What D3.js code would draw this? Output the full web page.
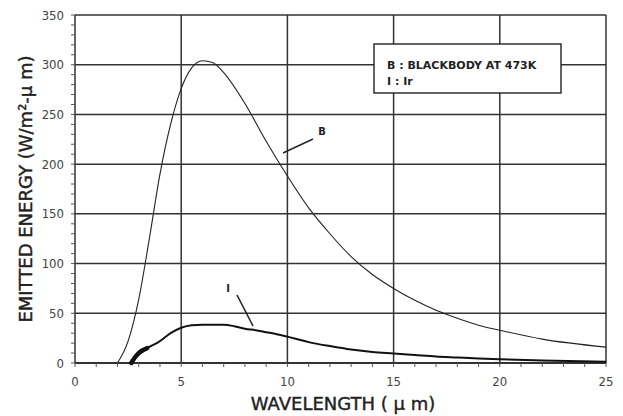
<!DOCTYPE html>
<html><head><meta charset="utf-8">
<script src="https://cdn.jsdelivr.net/npm/d3@7/dist/d3.min.js"></script>
<style>body{margin:0;background:#fff}</style>
</head><body>
<svg id="c" width="623" height="416"></svg>
<script>
// Blackbody at 473K (B)
const wavelengthB = [2.0, 2.5, 3.0, 3.5, 4.0, 4.5, 5.0, 5.5, 6.0, 6.5, 7.0, 8.0, 9.0, 10.0, 11.0, 12.0, 13.0, 14.0, 15.0, 16.0, 17.0, 18.0, 19.0, 20.0, 22.0, 25.0];
const energyB     = [0, 22, 64, 125, 190, 240, 276, 297, 304, 302, 292, 261, 223, 188, 156, 130, 107, 89, 75, 63, 53, 45, 38, 33, 24, 16];
// Iridium (I)
const wavelengthI = [2.65, 2.8, 3.0, 3.4, 4.0, 4.5, 5.0, 5.5, 6.0, 6.5, 7.0, 7.5, 8.0, 8.5, 9.0, 9.5, 10.0, 11.0, 12.0, 13.0, 14.0, 15.0, 16.0, 17.0, 18.0, 19.0, 20.0, 22.0, 25.0];
const energyI     = [0, 5, 10, 15, 22, 30, 35.5, 38, 38.5, 38.5, 38.5, 37, 34.5, 33, 31, 29, 26.5, 21, 17, 13.5, 11, 9.5, 8, 6.5, 5.5, 4.5, 3.7, 2.5, 1.3];
const xTicks = [0, 5, 10, 15, 20, 25];
const yTicks = [0, 50, 100, 150, 200, 250, 300, 350];
const legendLines = ["B : BLACKBODY AT 473K", "I : Ir"];

const svg = d3.select("#c");
const x = d3.scaleLinear().domain([0, 25]).range([75, 606]);
const y = d3.scaleLinear().domain([0, 350]).range([363, 15]);
const grid = "#333";
const font = "'DejaVu Sans Condensed','DejaVu Sans',sans-serif";
const titleFont = "'DejaVu Sans',sans-serif";

// grid
svg.append("g").selectAll("line").data(yTicks).join("line")
  .attr("x1", x(0)).attr("x2", x(25)).attr("y1", d => y(d)).attr("y2", d => y(d))
  .attr("stroke", grid).attr("stroke-width", d => d === 0 ? 2 : 1.5);
svg.append("g").selectAll("line").data(xTicks).join("line")
  .attr("y1", y(0)).attr("y2", y(350)).attr("x1", d => x(d)).attr("x2", d => x(d))
  .attr("stroke", grid).attr("stroke-width", 1.5);

// minor ticks
svg.append("g").selectAll("line").data(d3.range(0, 26, 1)).join("line")
  .attr("x1", d => x(d)).attr("x2", d => x(d)).attr("y1", y(0)).attr("y2", y(0) + 4)
  .attr("stroke", "#555").attr("stroke-width", 1);
svg.append("g").selectAll("line").data(d3.range(0, 351, 10)).join("line")
  .attr("x1", x(0) - 4).attr("x2", x(0)).attr("y1", d => y(d)).attr("y2", d => y(d))
  .attr("stroke", "#555").attr("stroke-width", 1);

// tick labels
svg.append("g").selectAll("text").data(xTicks).join("text")
  .attr("x", d => x(d)).attr("y", 386).attr("text-anchor", "middle")
  .attr("font-family", font).attr("font-size", 13).attr("fill", "#444").text(d => d);
svg.append("g").selectAll("text").data(yTicks).join("text")
  .attr("x", 64).attr("y", d => y(d) + 4.5).attr("text-anchor", "end")
  .attr("font-family", font).attr("font-size", 13).attr("fill", "#444").text(d => d);

// axis titles
svg.append("text").attr("x", 343).attr("y", 410).attr("text-anchor", "middle")
  .attr("font-family", titleFont).attr("font-size", 18).attr("fill", "#222")
  .attr("stroke", "#222").attr("stroke-width", 0.4)
  .text("WAVELENGTH ( \u03BC m)");
svg.append("text").attr("transform", "translate(32,189) rotate(-90)").attr("text-anchor", "middle")
  .attr("font-family", titleFont).attr("font-size", 18).attr("fill", "#222")
  .attr("stroke", "#222").attr("stroke-width", 0.4)
  .text("EMITTED ENERGY (W/m\u00B2-\u03BC m)");

// curves
const line = d3.line().curve(d3.curveMonotoneX);
svg.append("path")
  .attr("d", line(wavelengthB.map((w, i) => [x(w), y(energyB[i])])))
  .attr("fill", "none").attr("stroke", "#222").attr("stroke-width", 1.1);
const ptsI = wavelengthI.map((w, i) => [x(w), y(energyI[i])]);
svg.append("path").attr("d", line(ptsI))
  .attr("fill", "none").attr("stroke", "#111").attr("stroke-width", 2);
// thick start segment of I
svg.append("path").attr("d", line(ptsI.slice(0, 4)))
  .attr("fill", "none").attr("stroke", "#111").attr("stroke-width", 4.5).attr("stroke-linecap", "round");

// curve labels and leaders
svg.append("line").attr("x1", 283).attr("y1", 153).attr("x2", 313).attr("y2", 139)
  .attr("stroke", "#222").attr("stroke-width", 1.4);
svg.append("text").attr("x", 322).attr("y", 135).attr("text-anchor", "middle")
  .attr("font-family", font).attr("font-size", 11).attr("font-weight", "bold").attr("fill", "#222").text("B");
svg.append("line").attr("x1", 237).attr("y1", 295).attr("x2", 253).attr("y2", 326)
  .attr("stroke", "#222").attr("stroke-width", 1.6);
svg.append("text").attr("x", 228).attr("y", 292).attr("text-anchor", "middle")
  .attr("font-family", font).attr("font-size", 11).attr("font-weight", "bold").attr("fill", "#222").text("I");

// legend box
svg.append("rect").attr("x", 374).attr("y", 44).attr("width", 187).attr("height", 49)
  .attr("fill", "#fff").attr("stroke", "#222").attr("stroke-width", 1.4);
svg.append("g").selectAll("text").data(legendLines).join("text")
  .attr("x", 387).attr("y", (d, i) => 69 + i * 16)
  .attr("font-family", titleFont).attr("font-size", 11).attr("font-weight", "bold").attr("fill", "#222")
  .text(d => d);
</script>
</body></html>
